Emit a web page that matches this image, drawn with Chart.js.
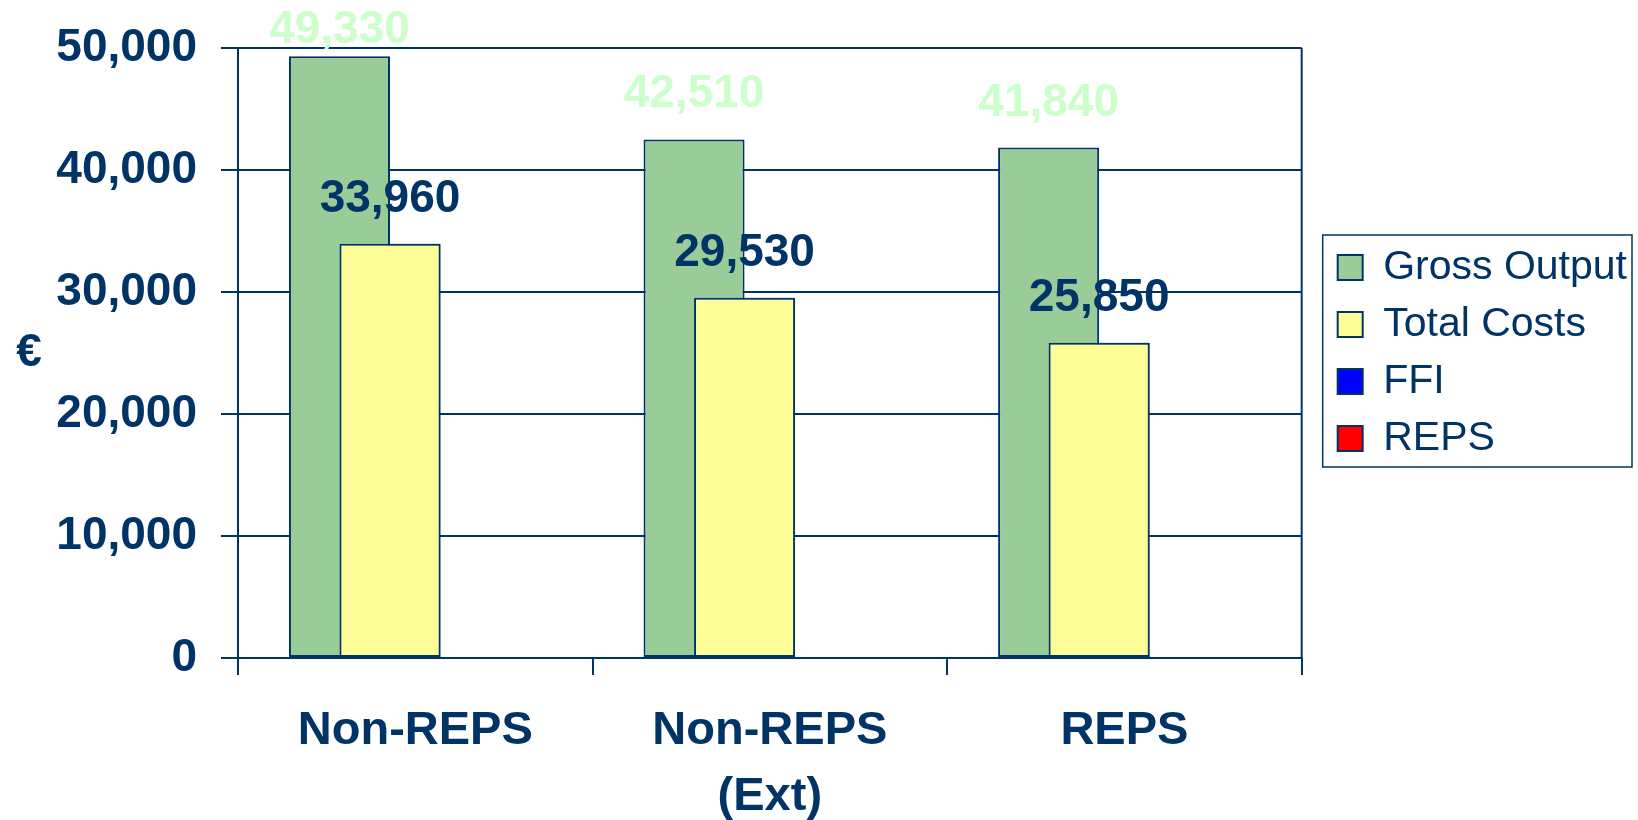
<!DOCTYPE html>
<html>
<head>
<meta charset="utf-8">
<script src="https://cdn.jsdelivr.net/npm/chart.js@4.4.1/dist/chart.umd.min.js"></script>
<style>
  body { margin: 0; background: #fff; }
  #wrap { width: 1638px; height: 820px; }
</style>
</head>
<body>
<div id="wrap"><canvas id="farmChart" width="1638" height="820"></canvas></div>
<script>
// data
const categories = ['Non-REPS', ['Non-REPS', '(Ext)'], 'REPS'];
const grossOutput = [49330, 42510, 41840];
const totalCosts = [33960, 29530, 25850];
const ffi = [null, null, null];
const repsPay = [null, null, null];
const yTickValues = [0, 10000, 20000, 30000, 40000, 50000];

const fontFamily = "Arial, 'Liberation Sans', sans-serif";
const navy = '#003366';

const excelLook = {
  id: 'excelLook',
  afterLayout(chart) {
    // legend stands a little off the plot and centred on it, like in the original
    const lg = chart.legend;
    const area = chart.chartArea;
    const pad = chart.options.plugins.legend.labels.padding;
    const shift = area.right + 36 - pad - lg.left;
    lg.left += shift;
    lg.right += shift;
    lg.top = area.top;
    lg.bottom = area.bottom;
    lg.height = area.bottom - area.top;
  },
  afterDatasetsDraw(chart) {
    const ctx = chart.ctx;
    // Total Costs overlaps Gross Output, so draw it again on top
    chart.getDatasetMeta(1).controller.draw();

    ctx.save();
    ctx.font = `bold 46px ${fontFamily}`;
    ctx.textAlign = 'center';
    ctx.textBaseline = 'alphabetic';
    chart.data.datasets.forEach((ds, i) => {
      if (!ds.labelColor) return;
      ctx.fillStyle = ds.labelColor;
      chart.getDatasetMeta(i).data.forEach((bar, j) => {
        if (ds.data[j] == null) return;
        const y = Math.max(bar.y - 32, 43);
        ctx.fillText(ds.data[j].toLocaleString('en-US'), bar.x, y);
      });
    });
    ctx.restore();
  },
  afterDraw(chart) {
    const ctx = chart.ctx;
    const area = chart.chartArea;
    ctx.save();
    ctx.strokeStyle = navy;
    ctx.lineWidth = 2;
    ctx.beginPath();
    ctx.moveTo(area.right, area.top);
    ctx.lineTo(area.right, area.bottom);
    ctx.stroke();

    // frame round the legend
    const boxes = chart.legend.legendHitBoxes;
    const left = Math.min(...boxes.map(b => b.left)) - 15;
    const right = Math.max(...boxes.map(b => b.left + b.width)) + 5;
    const top = boxes[0].top - 12;
    const last = boxes[boxes.length - 1];
    const bottom = last.top + last.height + 8;
    ctx.lineWidth = 1.5;
    ctx.strokeRect(left, top, right - left, bottom - top);

    // flat euro sign as the y title
    ctx.fillStyle = navy;
    ctx.font = `bold 46px ${fontFamily}`;
    ctx.textAlign = 'center';
    ctx.textBaseline = 'middle';
    ctx.fillText('€', 29, (area.top + area.bottom) / 2);
    ctx.restore();
  }
};

const barStyle = {
  borderColor: navy,
  borderWidth: 2,
  borderSkipped: false,
  categoryPercentage: 0.57,
  barPercentage: 2
};

const ctx = document.getElementById('farmChart').getContext('2d');
const farmChart = new Chart(ctx, {
  type: 'bar',
  data: {
    labels: categories,
    datasets: [
      { label: 'Gross Output', data: grossOutput, backgroundColor: '#99cc99', labelColor: '#ccffcc', ...barStyle },
      { label: 'Total Costs', data: totalCosts, backgroundColor: '#ffff99', labelColor: navy, ...barStyle },
      { label: 'FFI', data: ffi, backgroundColor: '#0000ff', ...barStyle },
      { label: 'REPS', data: repsPay, backgroundColor: '#ff0000', ...barStyle }
    ]
  },
  options: {
    responsive: false,
    animation: false,
    layout: {
      padding: { top: 48, right: 21, bottom: 0, left: 0 }
    },
    plugins: {
      legend: {
        position: 'right',
        align: 'center',
        labels: {
          color: navy,
          font: { family: fontFamily, size: 41 },
          boxWidth: 25,
          boxHeight: 25,
          padding: 16
        }
      },
      tooltip: { enabled: false }
    },
    scales: {
      x: {
        afterFit(scale) { scale.height = 162; },
        grid: {
          offset: true,
          drawOnChartArea: false,
          tickLength: 17,
          color: navy,
          lineWidth: 2
        },
        border: { color: navy, width: 2 },
        ticks: {
          color: navy,
          font: { family: fontFamily, size: 47, weight: 'bold', lineHeight: 1.4 },
          padding: 23,
          maxRotation: 0,
          autoSkip: false
        }
      },
      y: {
        min: yTickValues[0],
        max: yTickValues[yTickValues.length - 1],
        afterFit(scale) {
          scale.width = 238;
          scale.paddingTop = 0;
          scale.paddingBottom = 0;
        },
        afterBuildTicks(axis) { axis.ticks = yTickValues.map(v => ({ value: v })); },
        grid: {
          color: navy,
          lineWidth: 2,
          tickLength: 17
        },
        border: { color: navy, width: 2 },
        ticks: {
          color: navy,
          font: { family: fontFamily, size: 46, weight: 'bold' },
          padding: 24,
          callback: value => value.toLocaleString('en-US')
        }
      }
    }
  },
  plugins: [excelLook]
});
</script>
</body>
</html>
